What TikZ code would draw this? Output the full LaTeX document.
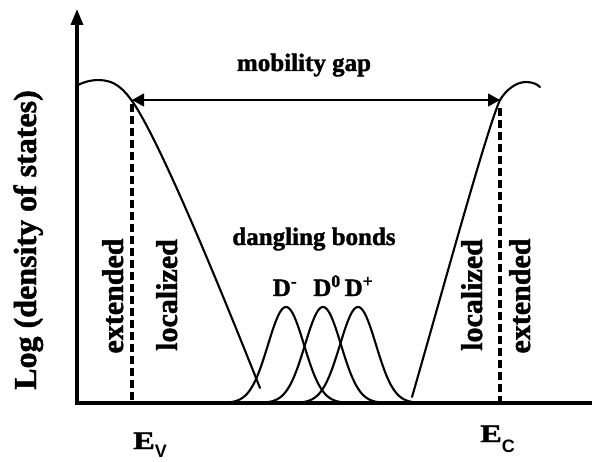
\documentclass[tikz,border=0pt]{standalone}
\usepackage{fontspec}
\newfontfamily\tms{Liberation Serif}[BoldFeatures={FakeBold=1.5}]
\newfontfamily\hsans{Liberation Sans}
\usetikzlibrary{arrows.meta}
\begin{document}
\begin{tikzpicture}[x=1pt,y=-1pt,
  axis/.style={line width=3.4pt},
  curve/.style={line width=2.1pt, line join=round, line cap=round},
  edgeline/.style={line width=3.2pt, dash pattern=on 8pt off 4pt},
  lbl/.style={font=\tms\bfseries\fontsize{25}{25}\selectfont, inner sep=0pt, anchor=base},
  vlbl/.style={font=\tms\bfseries\fontsize{30}{30}\selectfont, inner sep=0pt, rotate=90, anchor=base},
  elbl/.style={font=\tms\bfseries\fontsize{25}{25}\selectfont, inner sep=0pt, anchor=base west}
]
\fill[white] (0,0) rectangle (592,462);
\useasboundingbox (0,0) rectangle (592,462);

% axes
\coordinate (O) at (77,403);
\coordinate (ytop) at (77,9);
\coordinate (xend) at (592,403);
\draw[axis, -{Triangle[length=16pt,width=12pt]}] (O) -- (ytop);
\draw[axis] ([xshift=-1.7pt]O) -- (xend);

% mobility edges
\coordinate (evtop) at (132,104);
\coordinate (evbot) at (132,403);
\coordinate (ectop) at (500,108);
\coordinate (ecbot) at (500,403);
\draw[edgeline] (evtop) -- (evbot);
\draw[edgeline] (ectop) -- (ecbot);

% band tails
\draw[curve] (78,85) .. controls (88,80) and (98,79) .. (107,81)
  .. controls (117,83) and (125,91) .. (132,101)
  .. controls (160,140) and (225,300) .. (260,388);
\draw[curve] (412,397) .. controls (440,300) and (487,128) .. (500,100)
  .. controls (506,90) and (516,82) .. (526,82)
  .. controls (532,82) and (537,84) .. (540,87);

% mobility gap arrow
\coordinate (gl) at (132,100);
\coordinate (gr) at (500,100);
\draw[line width=1.1pt, {Triangle[length=12pt,width=13pt]}-{Triangle[length=12pt,width=13pt]}] (gl) -- (gr);

% dangling bond gaussians
\foreach \c in {286,323,358}{
  \draw[curve] plot[domain=\c-56:\c+56, samples=91, smooth]
    (\x, {403-96*exp(-((\x-\c)/18)^2/2)});
}

% labels
\node[lbl] (mob) at (304,71) {mobility gap};
\node[lbl] (dang) at (314,245) {dangling bonds};
\node[lbl] (dm) at (285,296) {D\textsuperscript{-}};
\node[lbl] (dz) at (327,296) {D\textsuperscript{0}};
\node[lbl] (dp) at (359,296) {D\textsuperscript{+}};

\node[vlbl] (ext1) at (123,296) {extended};
\node[vlbl] (loc1) at (177,295) {localized};
\node[vlbl] (loc2) at (482,295) {localized};
\node[vlbl] (ext2) at (530,296) {extended};

\node[font=\tms\bfseries\fontsize{32}{32}\selectfont, inner sep=0pt, rotate=90, anchor=base] (ylab) at (36,240) {Log (density of states)};

\node[elbl] (ev) at (133,449) {\scalebox{1.3}[1]{E}\raisebox{-9pt}{\hsans\fontsize{18}{18}\selectfont\bfseries V}};
\node[elbl] (ec) at (480,442) {\scalebox{1.3}[1]{E}\raisebox{-10pt}{\hsans\fontsize{18}{18}\selectfont\bfseries C}};
\end{tikzpicture}
\end{document}
